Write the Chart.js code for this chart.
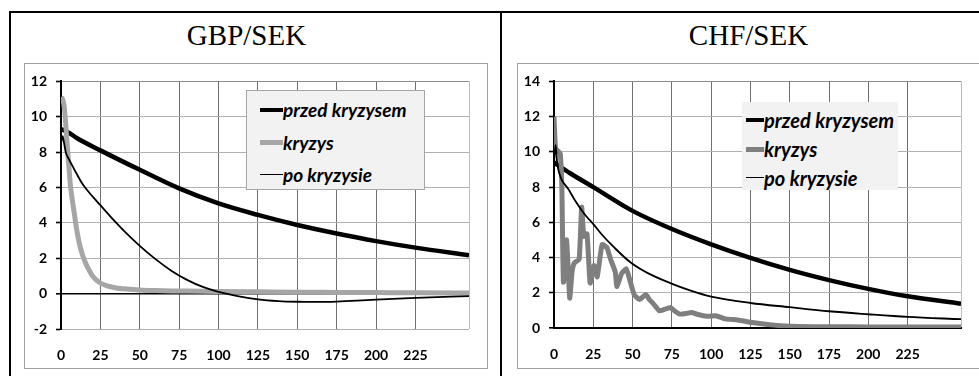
<!DOCTYPE html>
<html><head><meta charset="utf-8">
<script src="https://cdn.jsdelivr.net/npm/chart.js@4.4.0/dist/chart.umd.min.js"></script>
<style>
html,body{margin:0;padding:0;background:#fff;width:979px;height:376px;overflow:hidden;position:relative}
.frame{position:absolute;background:#000}
.title{position:absolute;font-family:"Liberation Serif","Times New Roman",serif;font-size:29px;line-height:29px;text-align:center;color:#000}
.box{position:absolute;border:1px solid #a0a0a0;background:#fff;overflow:hidden}
.box canvas{position:absolute;left:0;top:0}
.legend{position:absolute;background:#f2f2f2;font-family:Lato,"Open Sans",sans-serif;font-weight:bold;font-style:italic;color:#000}
.item{position:absolute;white-space:nowrap;line-height:22px;height:22px}
.item span.s{position:absolute;top:50%}
.item span.t{position:absolute;top:0}
</style></head>
<body>
<div class="frame" style="left:9px;top:11px;width:970px;height:2px"></div>
<div class="frame" style="left:9px;top:11px;width:2px;height:365px"></div>
<div class="frame" style="left:500px;top:11px;width:2px;height:365px"></div>

<div class="title" style="left:0;top:21px;width:493px">GBP/SEK</div>
<div class="title" style="left:502px;top:21px;width:493px">CHF/SEK</div>

<div class="box" style="left:24px;top:63px;width:462px;height:304px"><canvas id="c1" width="462" height="304"></canvas></div>
<div class="box" style="left:517px;top:63px;width:470px;height:304px"><canvas id="c2" width="461" height="304"></canvas></div>

<div class="legend" id="lg1" style="left:246px;top:90px;width:177px;height:98px;border:1px solid #a6a6a6;font-size:19px"></div>
<div class="legend" id="lg2" style="left:742px;top:102px;width:156px;height:88px;font-size:20px"></div>

<script>
// ---- labels ----
const seriesNames = ['przed kryzysem', 'kryzys', 'po kryzysie'];
const xTickLabels = [0, 25, 50, 75, 100, 125, 150, 175, 200, 225];
const yTicksGBP = [-2, 0, 2, 4, 6, 8, 10, 12];
const yTicksCHF = [0, 2, 4, 6, 8, 10, 12, 14];
const horizonMax = 259;

// ---- GBP/SEK ----
const gbpPrzedT = [0, 5, 10, 25, 50, 75, 100, 125, 150, 175, 200, 225, 259];
const gbpPrzedV = [9.3, 9.1, 8.8, 8.1, 7.0, 5.95, 5.1, 4.45, 3.88, 3.4, 2.97, 2.6, 2.17];

const gbpKryzysT = [0, 1, 2, 3, 4, 5, 6, 8, 10, 12, 14, 16, 18, 20, 25, 30, 35, 40, 50, 60, 75, 100, 125, 150, 175, 200, 225, 259];
const gbpKryzysV = [11.1, 11.0, 10.6, 9.6, 8.3, 7.2, 6.1, 4.8, 3.6, 2.7, 2.1, 1.65, 1.3, 1.0, 0.6, 0.42, 0.32, 0.27, 0.2, 0.17, 0.15, 0.12, 0.1, 0.08, 0.07, 0.06, 0.05, 0.04];

const gbpPoT = [0, 1, 2, 3, 5, 8, 14, 20, 25, 32, 40, 50, 60, 70, 80, 90, 100, 113, 125, 138, 150, 163, 175, 188, 200, 225, 259];
const gbpPoV = [8.5, 8.9, 8.5, 8.0, 7.6, 7.1, 6.15, 5.5, 5.0, 4.3, 3.55, 2.7, 1.95, 1.3, 0.78, 0.38, 0.1, -0.15, -0.32, -0.42, -0.46, -0.47, -0.45, -0.4, -0.34, -0.24, -0.14];

// ---- CHF/SEK ----
const chfPrzedT = [0, 10, 25, 50, 75, 100, 125, 150, 175, 200, 225, 259];
const chfPrzedV = [9.4, 8.8, 8.0, 6.65, 5.62, 4.75, 3.98, 3.3, 2.72, 2.22, 1.8, 1.38];

const chfKryzysT = [0, 1, 3, 4, 5, 6, 8, 10, 11.5, 13, 16, 17.6, 19, 21, 23, 25.4, 27.5, 30.6, 33.7, 36, 39, 40, 43, 46, 48, 51, 54.4, 58.5, 60.6, 63, 67, 70, 74, 77, 80, 84, 87.5, 91, 95, 99, 103, 109, 117, 125, 136, 150, 175, 200, 225, 259];
const chfKryzysV = [12.0, 10.2, 10.0, 9.9, 8.0, 2.6, 5.0, 1.7, 3.2, 3.7, 3.9, 6.86, 5.2, 5.35, 2.55, 3.55, 2.9, 4.74, 4.56, 3.9, 3.18, 2.35, 3.09, 3.36, 2.8, 1.9, 1.62, 1.9, 1.62, 1.4, 0.98, 1.05, 1.16, 0.95, 0.79, 0.82, 0.88, 0.78, 0.7, 0.66, 0.7, 0.52, 0.46, 0.33, 0.2, 0.1, 0.07, 0.06, 0.06, 0.06];

const chfPoT = [0, 1, 2, 3, 5, 9, 13, 20, 25, 30, 38, 49, 60, 74, 87, 100, 125, 150, 175, 200, 225, 259];
const chfPoV = [9.4, 10.4, 9.4, 8.9, 8.4, 7.9, 7.3, 6.4, 5.9, 5.35, 4.6, 3.7, 3.1, 2.55, 2.12, 1.78, 1.42, 1.18, 0.95, 0.78, 0.63, 0.5];

function pts(t, v) { return t.map((x, i) => ({x: x, y: v[i]})); }

const tickFont = {family: 'Lato, "Open Sans", sans-serif', size: 14, weight: 'bold'};

function buildChart(id, cfg) {
  const styles = [
    {color: '#000000', width: 4.5},
    {color: cfg.gray, width: 5},
    {color: '#000000', width: 1.8}
  ];
  const data = [pts(cfg.t[0], cfg.v[0]), pts(cfg.t[1], cfg.v[1]), pts(cfg.t[2], cfg.v[2])];
  const datasets = seriesNames.map((name, i) => ({
    label: name,
    data: data[i],
    borderColor: styles[i].color,
    backgroundColor: styles[i].color,
    borderWidth: styles[i].width,
    pointRadius: 0,
    borderJoinStyle: 'round',
    borderCapStyle: 'butt',
    cubicInterpolationMode: i === 1 && cfg.jagged ? 'default' : 'monotone',
    tension: i === 1 && cfg.jagged ? 0.15 : 0.4,
    order: 3 - i
  }));
  // HTML legend built from the datasets
  const lg = document.getElementById(cfg.legendId);
  seriesNames.forEach((name, i) => {
    const it = document.createElement('div');
    it.className = 'item';
    it.style.left = cfg.lgLeft + 'px';
    it.style.top = (cfg.lgRows[i] - 11) + 'px';
    const s = document.createElement('span');
    s.className = 's';
    s.style.left = '0px';
    s.style.width = cfg.lgSample + 'px';
    s.style.height = styles[i].width + 'px';
    s.style.marginTop = (-styles[i].width / 2) + 'px';
    s.style.background = styles[i].color;
    const t = document.createElement('span');
    t.className = 't';
    t.style.left = cfg.lgSample + 'px';
    t.textContent = name;
    it.appendChild(s); it.appendChild(t);
    lg.appendChild(it);
  });

  return new Chart(document.getElementById(id), {
    type: 'line',
    data: {datasets: datasets},
    options: {
      responsive: false,
      animation: false,
      devicePixelRatio: 1,
      layout: {padding: {left: 0, top: 9, right: cfg.padRight, bottom: 0}},
      plugins: {legend: {display: false}, tooltip: {enabled: false}},
      scales: {
        x: {
          type: 'linear', min: 0, max: horizonMax,
          ticks: {
            stepSize: 25, includeBounds: true, autoSkip: false, maxRotation: 0,
            padding: 18, color: '#000', font: tickFont,
            callback: (v) => xTickLabels.includes(v) ? String(v) : ''
          },
          grid: {
            drawTicks: false,
            color: (c) => (c.tick && c.tick.value === horizonMax) ? '#bdbdbd' : '#707070',
            lineWidth: 1
          },
          border: {display: cfg.xBorder, color: '#000', width: 2},
          afterFit: (s) => { s.height = cfg.xHeight; }
        },
        y: {
          min: cfg.yTicks[0], max: cfg.yTicks[cfg.yTicks.length - 1],
          afterBuildTicks: (s) => { s.ticks = cfg.yTicks.map(v => ({value: v})); },
          ticks: {padding: 9, color: '#000', font: tickFont},
          grid: {
            color: (c) => {
              const v = c.tick ? c.tick.value : null;
              if (v === 0) return '#000';
              if (v === cfg.yTicks[cfg.yTicks.length - 1]) return '#8c8c8c';
              return '#b0b0b0';
            },
            lineWidth: (c) => (c.tick && c.tick.value === 0) ? 1.6 : 1,
            tickColor: '#000', tickLength: 5, tickWidth: 1.6
          },
          border: {display: true, color: '#000', width: 2},
          afterFit: (s) => { s.width = 36; }
        }
      }
    }
  });
}

buildChart('c1', {
  t: [gbpPrzedT, gbpKryzysT, gbpPoT], v: [gbpPrzedV, gbpKryzysV, gbpPoV],
  gray: '#a6a6a6', jagged: false, yTicks: yTicksGBP,
  padRight: 17, xHeight: 39, xBorder: false,
  legendId: 'lg1', lgLeft: 13, lgSample: 23, lgRows: [19, 51.5, 83.5]
});
buildChart('c2', {
  t: [chfPrzedT, chfKryzysT, chfPoT], v: [chfPrzedV, chfKryzysV, chfPoV],
  gray: '#7f7f7f', jagged: true, yTicks: yTicksCHF,
  padRight: 8, xHeight: 40, xBorder: true,
  legendId: 'lg2', lgLeft: 4, lgSample: 18, lgRows: [18, 47, 75.5]
});
</script>
</body></html>
